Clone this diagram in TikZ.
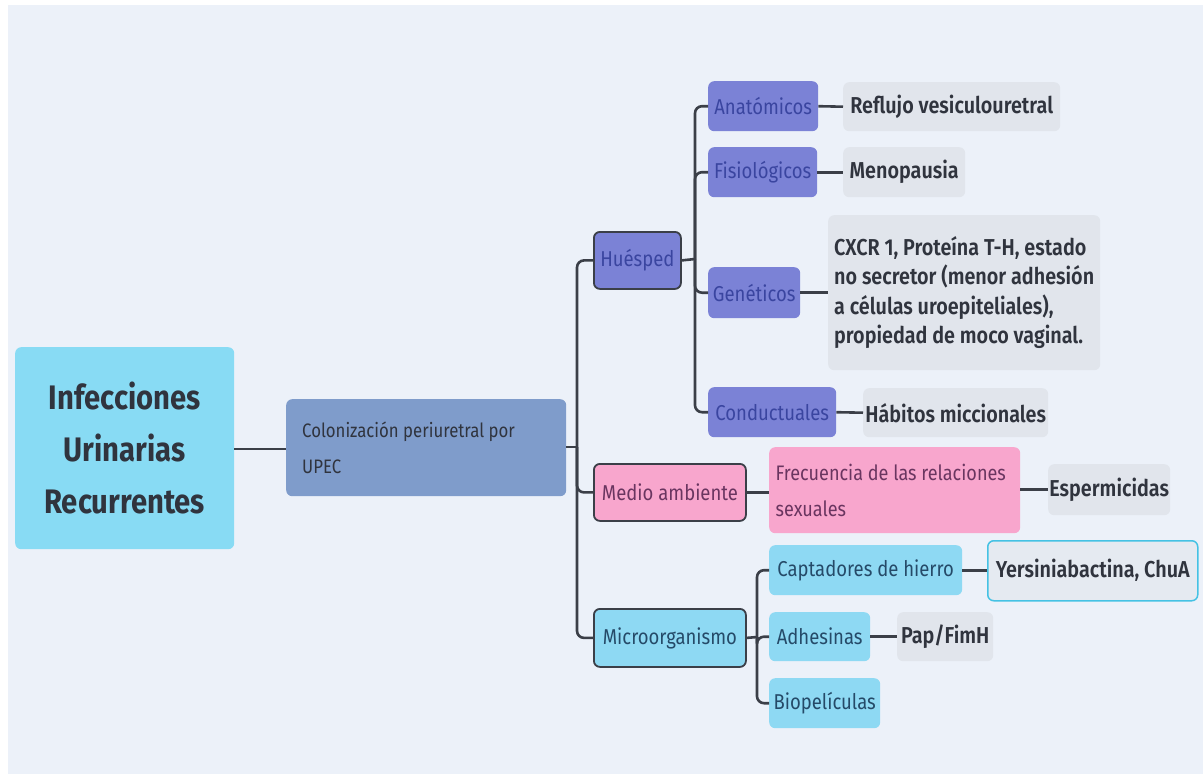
\documentclass[tikz,border=0pt]{standalone}
\usepackage{fontspec}
\setmainfont{Fira Sans}[FakeStretch=0.86, BoldFont={Fira Sans SemiBold}]
\newfontfamily\rootfont{Fira Sans Bold}[FakeStretch=0.86]
\usetikzlibrary{positioning}

\begin{document}
\begin{tikzpicture}[x=1pt, y=-1pt,
    box/.style={rectangle, rounded corners=6pt, inner sep=0pt, anchor=north west, align=center, font=\fontsize{21.5}{26}\selectfont},
    hostbox/.style={box, fill=hostcolor, text=hosttext},
    envbox/.style={box, fill=envcolor, text=envtext},
    microbox/.style={box, fill=microcolor, text=microtext},
    leafbox/.style={box, fill=leafcolor, text=leaftext, font=\fontsize{23}{29.5}\bfseries\selectfont},
    framed/.style={draw=linecolor, line width=1.8pt},
    link/.style={draw=linecolor, line width=2.6pt, rounded corners=7pt}]

    % Define colors
    \definecolor{bgcolor}{HTML}{ECF1F9}
    \definecolor{rootcolor}{HTML}{88DBF4}
    \definecolor{colcolor}{HTML}{7F9CCB}
    \definecolor{hostcolor}{HTML}{7B82D6}
    \definecolor{hosttext}{HTML}{3A45A0}
    \definecolor{envcolor}{HTML}{F8A6CD}
    \definecolor{envtext}{HTML}{6A3560}
    \definecolor{microcolor}{HTML}{8ED9F3}
    \definecolor{microtext}{HTML}{254A68}
    \definecolor{leafcolor}{HTML}{E1E5EC}
    \definecolor{leaftext}{HTML}{30343E}
    \definecolor{linecolor}{HTML}{3B3F48}
    \definecolor{yersborder}{HTML}{45C2E4}

    % Background
    \useasboundingbox (0,0) rectangle (1203,774);
    \fill[bgcolor] (8,5) rectangle (1203,774);

    % Main nodes
    \node[box, fill=rootcolor, minimum width=219pt, minimum height=202pt, text=leaftext,
          font=\fontsize{34}{52}\rootfont] (root) at (15,347) {Infecciones\\Urinarias\\Recurrentes};
    \node[box, fill=colcolor, minimum width=280pt, minimum height=97pt, text=leaftext,
          align=flush left, text width=248pt, font=\fontsize{19.5}{36}\selectfont] (col) at (286,399)
          {Colonización periuretral por\\UPEC};

    % Level one
    \node[hostbox, framed, minimum width=87pt, minimum height=57pt] (host) at (593,231) {Huésped};
    \node[envbox, framed, minimum width=152pt, minimum height=57pt] (env) at (593,463) {Medio ambiente};
    \node[microbox, framed, minimum width=152pt, minimum height=58pt] (micro) at (593,608) {Microorganismo};

    % Host factors
    \node[hostbox, minimum width=110pt, minimum height=50pt] (anat) at (708,81) {Anatómicos};
    \node[hostbox, minimum width=109pt, minimum height=50pt] (fisio) at (708,147) {Fisiológicos};
    \node[hostbox, minimum width=92pt, minimum height=51pt] (gen) at (708,267) {Genéticos};
    \node[hostbox, minimum width=128pt, minimum height=50pt] (cond) at (708,387) {Conductuales};

    \node[leafbox, minimum width=217pt, minimum height=49pt] (reflujo) at (843,82) {Reflujo vesiculouretral};
    \node[leafbox, minimum width=122pt, minimum height=50pt] (meno) at (843,147) {Menopausia};
    \node[leafbox, minimum width=272pt, minimum height=155pt, align=flush left] (cxcr) at (828,215)
          {CXCR 1, Proteína T-H, estado\\no secretor (menor adhesión\\a células uroepiteliales),\\propiedad de moco vaginal.};
    \node[leafbox, minimum width=185pt, minimum height=49pt] (habitos) at (863,388) {Hábitos miccionales};

    % Environment
    \node[envbox, minimum width=251pt, minimum height=86pt, align=flush left, text width=238pt,
          font=\fontsize{21}{36}\selectfont] (frec) at (769,447) {Frecuencia de las relaciones\\sexuales};
    \node[leafbox, minimum width=122pt, minimum height=51pt] (esperm) at (1048,464) {Espermicidas};

    % Microorganism
    \node[microbox, minimum width=193pt, minimum height=50pt] (capt) at (769,545) {Captadores de hierro};
    \node[leafbox, fill=leafcolor!60!bgcolor, draw=yersborder, line width=1.5pt,
          minimum width=210pt, minimum height=60pt] (yers) at (987,540) {Yersiniabactina, ChuA};
    \node[microbox, minimum width=101pt, minimum height=49pt] (adh) at (769,612) {Adhesinas};
    \node[leafbox, minimum width=96pt, minimum height=49pt] (pap) at (897,612) {Pap/FimH};
    \node[microbox, minimum width=111pt, minimum height=50pt] (bio) at (769,678) {Biopelículas};

    % Connectors
    \coordinate (trunk) at (577,447);
    \coordinate (hosttrunk) at (695,259);
    \coordinate (microtrunk) at (757,637);

    \draw[link] (root.east |- 0,449) -- (col.west |- 0,449);
    \draw[link] (col.east |- trunk) -- (trunk);
    \foreach \n in {host, env, micro}
        \draw[link] (trunk) |- (\n.west);
    \draw[link] (host.east) -- (hosttrunk);
    \foreach \n in {anat, fisio, gen, cond}
        \draw[link] (hosttrunk) |- (\n.west);
    \draw[link] (micro.east) -- (microtrunk);
    \foreach \n in {capt, adh, bio}
        \draw[link] (microtrunk) |- (\n.west);

    \draw[link] (anat.east) -- (reflujo.west);
    \draw[link] (fisio.east) -- (meno.west);
    \draw[link] (gen.east) -- (cxcr.west |- gen.east);
    \draw[link] (cond.east) -- (habitos.west);
    \draw[link] (env.east) -- (frec.west |- env.east);
    \draw[link] (frec.east |- esperm.west) -- (esperm.west);
    \draw[link] (capt.east) -- (yers.west |- capt.east);
    \draw[link] (adh.east) -- (pap.west);

\end{tikzpicture}
\end{document}
